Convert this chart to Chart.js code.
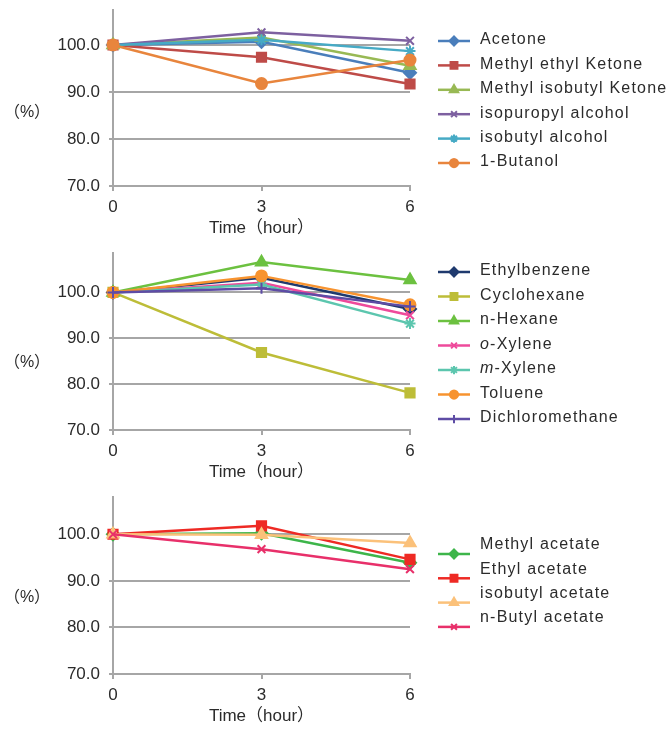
<!DOCTYPE html>
<html>
<head>
<meta charset="utf-8">
<script src="https://cdn.jsdelivr.net/npm/chart.js@4.4.1/dist/chart.umd.min.js"></script>
<style>
  html, body { margin: 0; padding: 0; background: #fff; overflow: hidden; }
  .panel { position: absolute; left: 0; width: 670px; height: 244px; }
</style>
</head>
<body>
<div class="panel" style="top:0"><canvas id="ketone-chart" width="670" height="244"></canvas></div>
<div class="panel" style="top:244px"><canvas id="aromatic-chart" width="670" height="244"></canvas></div>
<div class="panel" style="top:488px"><canvas id="acetate-chart" width="670" height="244"></canvas></div>
<script>
// Sampling times (hour) and percent ticks shared by the three charts
const hours = [0, 3, 6];
const percentTicks = [70, 80, 90, 100];

// Ketones and alcohols
const ketoneNames = ['Acetone', 'Methyl ethyl Ketone', 'Methyl isobutyl Ketone', 'isopuropyl alcohol', 'isobutyl alcohol', '1-Butanol'];
const acetone = [100, 100.7, 94.1];
const methylEthylKetone = [100, 97.4, 91.7];
const methylIsobutylKetone = [100, 101.6, 95.6];
const isopropylAlcohol = [100, 102.7, 100.9];
const isobutylAlcohol = [100, 101.1, 98.7];
const butanol = [100, 91.8, 96.8];

// Hydrocarbons and halides
const aromaticNames = ['Ethylbenzene', 'Cyclohexane', 'n-Hexane', 'o-Xylene', 'm-Xylene', 'Toluene', 'Dichloromethane'];
const ethylbenzene = [100, 103.2, 96.4];
const cyclohexane = [100, 86.9, 78.1];
const nHexane = [100, 106.6, 102.7];
const oXylene = [100, 102.1, 95.0];
const mXylene = [100, 101.7, 93.2];
const toluene = [100, 103.6, 97.3];
const dichloromethane = [100, 100.9, 96.9];

// Acetate esters
const acetateNames = ['Methyl acetate', 'Ethyl acetate', 'isobutyl acetate', 'n-Butyl acetate'];
const methylAcetate = [100, 100.2, 93.9];
const ethylAcetate = [100, 101.8, 94.6];
const isobutylAcetate = [100, 99.9, 98.1];
const butylAcetate = [100, 96.8, 92.5];

const textColor = '#2b2b2b';
const gridGray = '#a6a6a6';
const fontFamily = "'Liberation Sans', 'Noto Sans CJK JP', Arial, sans-serif";
const markerSize = { rectRot: 6, rect: 6.5, triangle: 6.5, crossRot: 5.5, star: 5.5, circle: 5.5, cross: 5.5 };

Chart.defaults.font.family = fontFamily;
Chart.defaults.color = textColor;

// Draws the series key to the right of the plot and the (%) note left of the axis
const sideLegend = {
  id: 'sideLegend',
  afterDraw(chart, args, opts) {
    const ctx = chart.ctx;
    ctx.save();
    chart.data.datasets.forEach((ds, i) => {
      const y = opts.top + i * opts.step;
      ctx.strokeStyle = ds.borderColor;
      ctx.fillStyle = ds.backgroundColor;
      ctx.lineWidth = 2.5;
      ctx.beginPath();
      ctx.moveTo(opts.x, y);
      ctx.lineTo(opts.x + 32, y);
      ctx.stroke();
      ctx.lineWidth = 2;
      Chart.helpers.drawPoint(ctx, {
        pointStyle: ds.pointStyle,
        radius: ds.pointRadius * 0.75,
        rotation: 0,
        borderWidth: 2
      }, opts.x + 16, y);

      ctx.fillStyle = textColor;
      ctx.textBaseline = 'middle';
      ctx.textAlign = 'left';
      ctx.letterSpacing = '1.2px';
      let tx = opts.x + 42;
      const ty = y + opts.textDy;
      const parts = ds.label.match(/^([om])(-.*)$/);
      if (parts) {
        ctx.font = 'italic 16px ' + fontFamily;
        ctx.fillText(parts[1], tx, ty);
        tx += ctx.measureText(parts[1]).width;
        ctx.font = '16px ' + fontFamily;
        ctx.fillText(parts[2], tx, ty);
      } else {
        ctx.font = '16px ' + fontFamily;
        ctx.fillText(ds.label, tx, ty);
      }
    });
    ctx.letterSpacing = '0px';
    ctx.font = '16px ' + fontFamily;
    ctx.textAlign = 'center';
    ctx.textBaseline = 'middle';
    ctx.fillStyle = textColor;
    ctx.fillText('（%）', opts.unitX, opts.unitY);
    ctx.restore();
  }
};

function buildChart(id, names, series, colors, styles, cfg) {
  return new Chart(document.getElementById(id), {
    type: 'line',
    data: {
      datasets: names.map((name, i) => ({
        label: name,
        data: hours.map((h, j) => ({ x: h, y: series[i][j] })),
        borderColor: colors[i],
        backgroundColor: colors[i],
        borderWidth: 2.5,
        pointStyle: styles[i],
        pointRadius: markerSize[styles[i]],
        pointBorderWidth: 2,
        tension: 0,
        clip: false,
        order: names.length - i
      }))
    },
    options: {
      responsive: false,
      animation: false,
      events: [],
      layout: { padding: { top: cfg.top, right: 260, left: 0, bottom: 0 } },
      scales: {
        x: {
          type: 'linear',
          min: 0,
          max: 6,
          afterBuildTicks: s => { s.ticks = hours.map(v => ({ value: v })); },
          afterFit: s => { s.height = 58; s.paddingLeft = 0; s.paddingRight = 0; },
          ticks: { font: { size: 17 }, padding: 6, color: textColor },
          grid: { drawOnChartArea: false, tickLength: 5, lineWidth: 2, color: gridGray },
          border: { color: gridGray, width: 2 },
          title: {
            display: true,
            text: 'Time（hour）',
            font: { size: 17 },
            color: textColor,
            padding: { top: 0, bottom: 5 }
          }
        },
        y: {
          min: 70,
          max: cfg.max,
          afterBuildTicks: s => { s.ticks = percentTicks.map(v => ({ value: v })); },
          afterFit: s => { s.width = 113; s.paddingTop = 0; s.paddingBottom = 0; },
          ticks: { font: { size: 17 }, padding: 9, color: textColor, callback: v => v.toFixed(1) },
          grid: { tickLength: 4, lineWidth: 2, color: gridGray },
          border: { color: gridGray, width: 2 }
        }
      },
      plugins: {
        legend: { display: false },
        tooltip: { enabled: false },
        sideLegend: cfg.legend
      }
    },
    plugins: [sideLegend]
  });
}

buildChart('ketone-chart', ketoneNames,
  [acetone, methylEthylKetone, methylIsobutylKetone, isopropylAlcohol, isobutylAlcohol, butanol],
  ['#4a7ebb', '#be4b48', '#98b954', '#7d60a0', '#46aac5', '#e8853d'],
  ['rectRot', 'rect', 'triangle', 'crossRot', 'star', 'circle'],
  { top: 10, max: 107.45, legend: { x: 438, top: 41, step: 24.4, textDy: -1, unitX: 27, unitY: 113 } });

buildChart('aromatic-chart', aromaticNames,
  [ethylbenzene, cyclohexane, nHexane, oXylene, mXylene, toluene, dichloromethane],
  ['#1f3a6e', '#bdbd38', '#6cc140', '#ee4a9b', '#5cc6ae', '#f7932f', '#5e4ca5'],
  ['rectRot', 'rect', 'triangle', 'crossRot', 'star', 'circle', 'cross'],
  { top: 4, max: 108.7, legend: { x: 438, top: 28, step: 24.5, textDy: -1, unitX: 27, unitY: 119 } });

buildChart('acetate-chart', acetateNames,
  [methylAcetate, ethylAcetate, isobutylAcetate, butylAcetate],
  ['#3db54a', '#ee2a24', '#fbc17a', '#e8306a'],
  ['rectRot', 'rect', 'triangle', 'crossRot'],
  { top: 7, max: 108.1, legend: { x: 438, top: 66, step: 24.3, textDy: -9, unitX: 27, unitY: 110 } });
</script>
</body>
</html>
